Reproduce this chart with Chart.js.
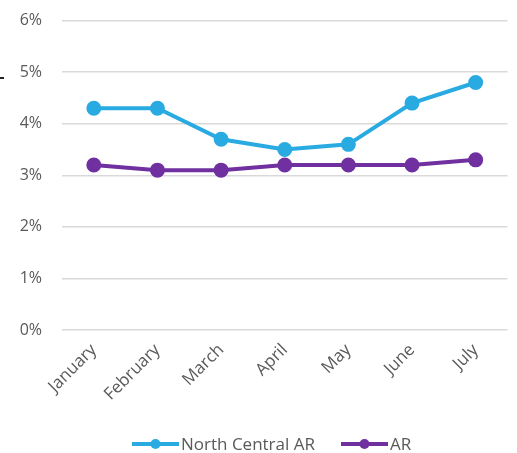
<!DOCTYPE html>
<html>
<head>
<meta charset="utf-8">
<script src="https://cdn.jsdelivr.net/npm/chart.js@4.4.0/dist/chart.umd.min.js"></script>
<style>
  html, body { margin: 0; padding: 0; background: #fff; }
  #wrap { position: relative; width: 517px; height: 453px; overflow: hidden; }
  #chart { position: absolute; left: 0; top: -9px; }
  #mark { position: absolute; left: 0; top: 77px; width: 4px; height: 2px; background: #222; }
</style>
</head>
<body>
<div id="wrap">
  <canvas id="chart" width="517" height="462"></canvas>
  <div id="mark"></div>
</div>
<script>
const months = ['January', 'February', 'March', 'April', 'May', 'June', 'July'];
const northCentral = [4.3, 4.3, 3.7, 3.5, 3.6, 4.4, 4.8];
const arkansas = [3.2, 3.1, 3.1, 3.2, 3.2, 3.2, 3.3];
const yTicks = [0, 1, 2, 3, 4, 5, 6];

const BLUE = '#29abe2';
const PURPLE = '#7030a0';
const TEXT = '#595959';
const FONT = "'Open Sans', 'Liberation Sans', sans-serif";

// legend drawn as line + dot, like the office-style legend
const lineLegend = {
    id: 'lineLegend',
    afterDraw(chart) {
        const ctx = chart.ctx;
        const y = 453;
        const items = [
            { x: 132, ds: chart.data.datasets[0] },
            { x: 341, ds: chart.data.datasets[1] }
        ];
        ctx.save();
        ctx.font = '17px ' + FONT;
        ctx.textBaseline = 'middle';
        items.forEach(it => {
            ctx.strokeStyle = it.ds.borderColor;
            ctx.lineWidth = 4;
            ctx.beginPath();
            ctx.moveTo(it.x, y);
            ctx.lineTo(it.x + 47, y);
            ctx.stroke();
            ctx.fillStyle = it.ds.borderColor;
            ctx.beginPath();
            ctx.arc(it.x + 23.5, y, 5, 0, Math.PI * 2);
            ctx.fill();
            ctx.fillStyle = TEXT;
            ctx.fillText(it.ds.label, it.x + 49, y + 1);
        });
        ctx.restore();
    }
};

const ctx = document.getElementById('chart').getContext('2d');
new Chart(ctx, {
    type: 'line',
    data: {
        labels: months,
        datasets: [
            {
                label: 'North Central AR',
                data: northCentral,
                borderColor: BLUE,
                backgroundColor: BLUE,
                borderWidth: 4,
                pointRadius: 5.5,
                pointHoverRadius: 5.5,
                tension: 0
            },
            {
                label: 'AR',
                data: arkansas,
                borderColor: PURPLE,
                backgroundColor: PURPLE,
                borderWidth: 4,
                pointRadius: 5.5,
                pointHoverRadius: 5.5,
                tension: 0
            }
        ]
    },
    options: {
        responsive: false,
        animation: false,
        layout: { padding: { top: 0, right: 6, left: 0, bottom: 38 } },
        plugins: {
            legend: { display: false },
            tooltip: { enabled: false }
        },
        scales: {
            x: {
                offset: true,
                grid: { display: false },
                border: { display: false },
                afterFit(axis) { axis.height = 462 - 339 - 38; },
                ticks: {
                    color: TEXT,
                    font: { family: FONT, size: 17 },
                    minRotation: 45,
                    maxRotation: 45,
                    padding: 2
                }
            },
            y: {
                min: 0,
                max: 6,
                afterBuildTicks(axis) {
                    axis.ticks = yTicks.map(v => ({ value: v }));
                },
                afterFit(axis) { axis.width = 62; },
                grid: { color: '#d9d9d9', lineWidth: 1.5, drawTicks: false },
                border: { display: false },
                ticks: {
                    color: TEXT,
                    font: { family: FONT, size: 16 },
                    padding: 20,
                    callback: v => v + '%'
                }
            }
        }
    },
    plugins: [lineLegend]
});
</script>
</body>
</html>
